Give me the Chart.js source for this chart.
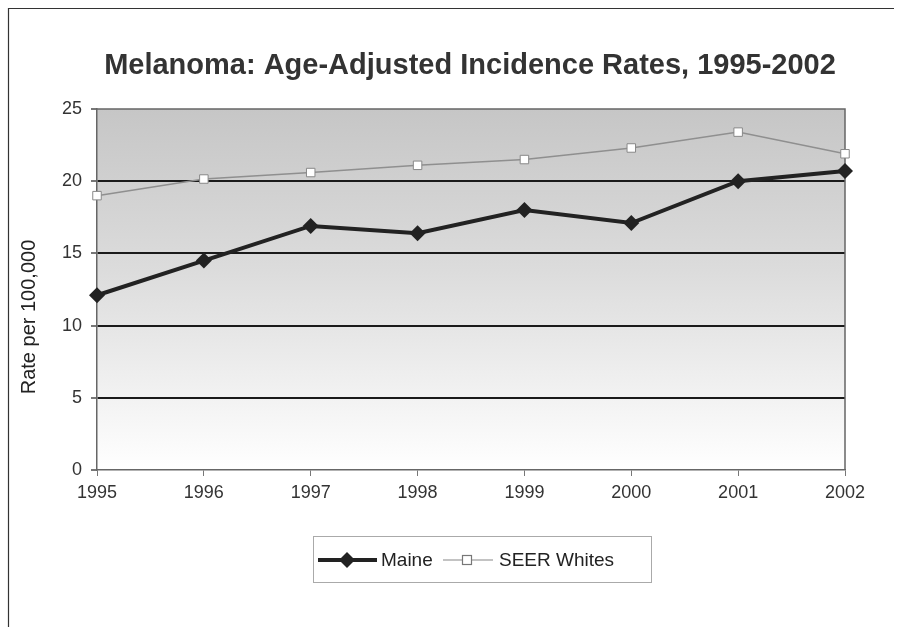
<!DOCTYPE html>
<html>
<head>
<meta charset="utf-8">
<script src="https://cdn.jsdelivr.net/npm/chart.js@4/dist/chart.umd.min.js"></script>
<style>
html,body{margin:0;padding:0;background:#fff;}
#wrap{position:relative;width:909px;height:627px;}
</style>
</head>
<body>
<div id="wrap"><canvas id="c" width="909" height="627"></canvas></div>
<script>
const years = ['1995','1996','1997','1998','1999','2000','2001','2002'];
const maine = [12.1, 14.5, 16.9, 16.4, 18.0, 17.1, 20.0, 20.7];
const seerWhites = [19.0, 20.15, 20.6, 21.1, 21.5, 22.3, 23.4, 21.9];
const seriesNames = ['Maine', 'SEER Whites'];
const titleText = 'Melanoma: Age-Adjusted Incidence Rates, 1995-2002';
const yAxisTitle = 'Rate per 100,000';

const FONT = '"Liberation Sans", Arial, sans-serif';

const decor = {
  id: 'decor',
  beforeDraw(chart) {
    const {ctx, chartArea: a} = chart;
    ctx.save();
    ctx.fillStyle = '#fff';
    ctx.fillRect(0, 0, chart.width, chart.height);
    // outer frame
    ctx.strokeStyle = '#333';
    ctx.lineWidth = 1.2;
    ctx.beginPath();
    ctx.moveTo(8.5, 627);
    ctx.lineTo(8.5, 8.5);
    ctx.lineTo(894, 8.5);
    ctx.stroke();
    // gradient plot background
    const g = ctx.createLinearGradient(0, a.top, 0, a.bottom);
    g.addColorStop(0, '#c6c6c6');
    g.addColorStop(0.45, '#dcdcdc');
    g.addColorStop(1, '#ffffff');
    ctx.fillStyle = g;
    ctx.fillRect(a.left, a.top, a.right - a.left, a.bottom - a.top);
    ctx.restore();
  },
  afterDraw(chart) {
    const {ctx, chartArea: a} = chart;
    ctx.save();
    // title
    ctx.fillStyle = '#333';
    ctx.font = 'bold 29px ' + FONT;
    ctx.textAlign = 'center';
    ctx.textBaseline = 'alphabetic';
    ctx.fillText(titleText, 470, 74);
    // y axis title
    ctx.save();
    ctx.translate(29, 317);
    ctx.rotate(-Math.PI / 2);
    ctx.font = '20px ' + FONT;
    ctx.fillStyle = '#222';
    ctx.textAlign = 'center';
    ctx.textBaseline = 'middle';
    ctx.fillText(yAxisTitle, 0, 0);
    ctx.restore();
    // legend
    const lx = 313, ly = 536, lw = 338, lh = 46;
    ctx.strokeStyle = '#aaa';
    ctx.lineWidth = 1;
    ctx.strokeRect(lx + 0.5, ly + 0.5, lw, lh);
    const cy = ly + lh / 2 + 1;
    const ds = chart.data.datasets;
    // Maine
    ctx.strokeStyle = '#222';
    ctx.lineWidth = 4;
    ctx.beginPath(); ctx.moveTo(318, cy); ctx.lineTo(377, cy); ctx.stroke();
    ctx.fillStyle = '#222';
    ctx.beginPath();
    ctx.moveTo(347, cy - 8); ctx.lineTo(355, cy); ctx.lineTo(347, cy + 8); ctx.lineTo(339, cy);
    ctx.closePath(); ctx.fill();
    ctx.font = '19px ' + FONT;
    ctx.textAlign = 'left';
    ctx.textBaseline = 'middle';
    ctx.fillStyle = '#222';
    ctx.fillText(ds[0].label, 381, cy + 1);
    // SEER
    ctx.strokeStyle = '#888';
    ctx.lineWidth = 1.2;
    ctx.beginPath(); ctx.moveTo(443, cy); ctx.lineTo(493, cy); ctx.stroke();
    ctx.fillStyle = '#fff';
    ctx.fillRect(462, cy - 5, 10, 10);
    ctx.strokeStyle = '#777';
    ctx.strokeRect(462.5, cy - 4.5, 9, 9);
    ctx.fillStyle = '#222';
    ctx.fillText(ds[1].label, 499, cy + 1);
    ctx.restore();
  }
};

new Chart(document.getElementById('c'), {
  type: 'line',
  data: {
    labels: years,
    datasets: [
      {
        label: seriesNames[0],
        data: maine,
        borderColor: '#222',
        backgroundColor: '#222',
        borderWidth: 4,
        pointStyle: 'rectRot',
        pointRadius: 8,
        pointBorderWidth: 0,
        pointBackgroundColor: '#222',
        tension: 0,
        order: 1
      },
      {
        label: seriesNames[1],
        data: seerWhites,
        borderColor: '#8f8f8f',
        borderWidth: 1.5,
        pointStyle: 'rect',
        pointRadius: 6,
        pointBorderWidth: 1,
        pointBorderColor: '#888',
        pointBackgroundColor: '#fff',
        tension: 0,
        order: 2
      }
    ]
  },
  options: {
    responsive: false,
    animation: false,
    layout: { padding: { left: 0, right: 64, top: 109, bottom: 0 } },
    plugins: { legend: { display: false }, title: { display: false }, tooltip: { enabled: false } },
    scales: {
      x: {
        offset: false,
        grid: { display: true, drawOnChartArea: false, drawTicks: true, tickLength: 6, color: '#777' },
        border: { display: true, color: '#666', width: 1.5 },
        ticks: { color: '#333', font: { family: FONT, size: 18 }, padding: 6, maxRotation: 0 },
        afterFit(s) { s.height = 157; }
      },
      y: {
        min: 0, max: 25,
        ticks: { stepSize: 5, color: '#333', font: { family: FONT, size: 18 }, padding: 9 },
        grid: {
          color: (c) => (c.tick && (c.tick.value === 0 || c.tick.value === 25)) ? 'rgba(0,0,0,0)' : '#1a1a1a',
          lineWidth: 2,
          drawTicks: true,
          tickLength: 6,
          tickColor: '#777'
        },
        border: { display: true, color: '#666', width: 1.5 },
        afterFit(s) { s.width = 97; }
      }
    }
  },
  plugins: [decor, {
    id: 'frameTopRight',
    beforeDatasetsDraw(chart) {
      const {ctx, chartArea: a} = chart;
      ctx.save();
      ctx.strokeStyle = '#666';
      ctx.lineWidth = 1.5;
      ctx.beginPath();
      ctx.moveTo(a.left, a.top);
      ctx.lineTo(a.right, a.top);
      ctx.lineTo(a.right, a.bottom);
      ctx.stroke();
      ctx.restore();
    }
  }]
});
</script>
</body>
</html>
